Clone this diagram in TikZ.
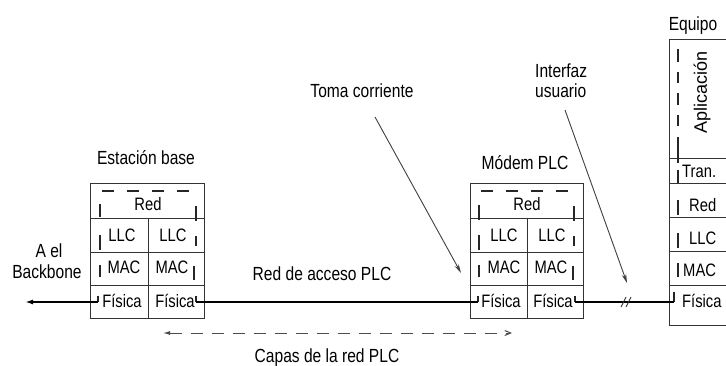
\documentclass[tikz,border=0pt]{standalone}
\usepackage{fontspec}
\setmainfont[FakeStretch=0.82]{Liberation Sans}
\newfontfamily\plainsans{Liberation Sans}
\usetikzlibrary{arrows.meta}
\begin{document}
\begin{tikzpicture}[x=1pt,y=-1pt,
  lbl/.style={font=\fontsize{19}{22}\selectfont, inner sep=0pt, anchor=base},
  cell/.style={font=\fontsize{18}{21}\selectfont, inner sep=0pt, anchor=base},
  frame/.style={draw=black!80, line width=0.9pt},
  tick/.style={draw=black!85, line width=1.3pt},
  wire/.style={draw=black, line width=1.8pt},
  pointer/.style={draw=black!75, line width=0.9pt, -{Stealth[length=9pt,width=4.5pt]}},
  span/.style={draw=black!70, line width=1pt, dash pattern=on 12pt off 9pt,
     {Latex[length=7pt,width=4pt]}-{Straight Barb[length=6pt,width=5pt]}}]
\useasboundingbox (0,0) rectangle (726,366);
\fill[white] (0,0) rectangle (726,366);

% ---------- Estacion base ----------
\begin{scope}[shift={(90,0)}]
  \draw[frame] (0,183) rectangle (114,318);
  \draw[frame] (0,218) -- (114,218) (0,252) -- (114,252) (0,285) -- (114,285) (58,218) -- (58,318);
  \draw[tick, dash pattern=on 12pt off 13pt] (12,191) -- (106,191);
  \draw[tick] (10,204) -- (10,217) (10,235) -- (10,250) (10,265) -- (10,277) (8,296) -- (8,302);
  \draw[tick] (106,206) -- (106,221) (106,236) -- (106,246) (104,266) -- (104,280) (106,296) -- (106,302);
  \node[cell] (ebred) at (58,211) {Red};
  \node[cell] (ebllc1) at (32,242) {LLC};
  \node[cell] (ebllc2) at (83,242) {LLC};
  \node[cell] (ebmac1) at (34,274) {MAC};
  \node[cell] (ebmac2) at (82,274) {MAC};
  \node[cell] (ebfis1) at (32,308) {Física};
  \node[cell] (ebfis2) at (85,308) {Física};
  \coordinate (ebL) at (8,302);
  \coordinate (ebR) at (106,302);
\end{scope}
\node[lbl] (ebtitle) at (146,165) {Estación base};

% ---------- Modem PLC ----------
\begin{scope}[shift={(470,0)}]
  \draw[frame] (0,183) rectangle (113,318);
  \draw[frame] (0,218) -- (113,218) (0,252) -- (113,252) (0,285) -- (113,285) (57,218) -- (57,318);
  \draw[tick, dash pattern=on 12pt off 13pt] (11,191) -- (106,191);
  \draw[tick] (9,205) -- (9,220) (9,235) -- (9,250) (9,265) -- (9,277) (8,296) -- (8,302);
  \draw[tick] (104,206) -- (104,221) (104,236) -- (104,246) (103,266) -- (103,280) (105,296) -- (105,302);
  \node[cell] (mdred) at (57,211) {Red};
  \node[cell] (mdllc1) at (34,242) {LLC};
  \node[cell] (mdllc2) at (82,242) {LLC};
  \node[cell] (mdmac1) at (34,274) {MAC};
  \node[cell] (mdmac2) at (81,274) {MAC};
  \node[cell] (mdfis1) at (31,308) {Física};
  \node[cell] (mdfis2) at (83,308) {Física};
  \coordinate (mdL) at (8,302);
  \coordinate (mdR) at (105,302);
\end{scope}
\node[lbl] (mdtitle) at (525,170) {Módem PLC};

% ---------- Equipo ----------
\draw[frame] (730,39) -- (669,39) -- (669,325) -- (730,325);
\draw[frame] (669,158) -- (730,158) (669,183) -- (730,183) (669,217) -- (730,217)
             (669,251) -- (730,251) (669,285) -- (730,285);
\draw[tick] (678,49) -- (678,62) (678,72) -- (678,83) (678,93) -- (678,105) (678,115) -- (678,126)
            (678,137) -- (678,163) (678,170) -- (678,183) (678,200) -- (678,215)
            (678,233) -- (678,248) (678,263) -- (678,277) (674,292) -- (674,302);
\node[lbl] (eqtitle) at (693,31) {Equipo};
\node[inner sep=0pt, anchor=center, rotate=90, font=\plainsans\fontsize{18}{21}\selectfont] (eqapl) at (702,92) {Aplicación};
\node[cell, anchor=base west] (eqtran) at (682,178) {Tran.};
\node[cell, anchor=base west] (eqred) at (689,212) {Red};
\node[cell, anchor=base west] (eqllc) at (689,245) {LLC};
\node[cell, anchor=base west] (eqmac) at (683,277) {MAC};
\node[cell, anchor=base west] (eqfis) at (682,308) {Física};
\coordinate (eqL) at (674,302);

% ---------- wires ----------
\coordinate (bbtip) at (25,302);
\draw[wire, -{Latex[length=8pt,width=5pt]}] (ebL) -- (bbtip);
\draw[wire] (ebR) -- (mdL);
\draw[wire] (mdR) -- (eqL);
\coordinate (sl1a) at (621,307); \coordinate (sl1b) at (626,297);
\coordinate (sl2a) at (626,307); \coordinate (sl2b) at (631,297);
\draw[black!80, line width=0.9pt] (sl1a) -- (sl1b) (sl2a) -- (sl2b);

% ---------- labels ----------
\node[lbl] (ael) at (49,258) {A el};
\node[lbl] (bb) at (47,279) {Backbone};
\node[lbl] (acceso) at (322,281) {Red de acceso PLC};
\node[lbl] (toma) at (362,98) {Toma corriente};
\node[lbl, anchor=base west] (interfaz) at (535,78) {Interfaz};
\node[lbl, anchor=base west] (usuario) at (535,98) {usuario};
\node[lbl] (capas) at (327,362) {Capas de la red PLC};

% ---------- pointers ----------
\coordinate (tomaS) at (375,117);
\coordinate (tomaE) at (461,273);
\draw[pointer] (tomaS) -- (tomaE);
\coordinate (intS) at (565,110);
\coordinate (intE) at (627,283);
\draw[pointer] (intS) -- (intE);

\coordinate (spL) at (163,333);
\coordinate (spR) at (512,333);
\draw[span] (spL) -- (spR);
\end{tikzpicture}
\end{document}
